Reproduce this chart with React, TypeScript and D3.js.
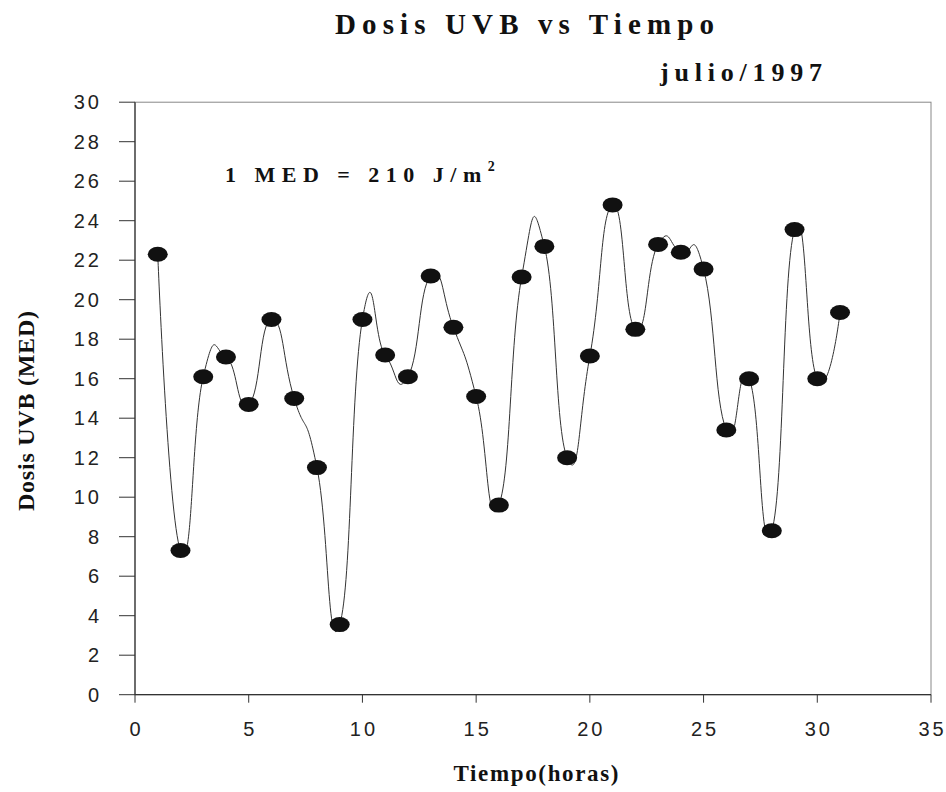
import React from "react";
import * as d3 from "d3";

const hours: number[] = [1,2,3,4,5,6,7,8,9,10,11,12,13,14,15,16,17,18,19,20,21,22,23,24,25,26,27,28,29,30,31];
const doses: number[] = [22.3,7.3,16.1,17.1,14.7,19.0,15.0,11.5,3.55,19.0,17.2,16.1,21.2,18.6,15.1,9.6,21.15,22.7,12.0,17.15,24.8,18.5,22.8,22.4,21.55,13.4,16.0,8.3,23.55,16.0,19.35];
const xTicks: number[] = [0,5,10,15,20,25,30,35];
const yTicks: number[] = [0,2,4,6,8,10,12,14,16,18,20,22,24,26,28,30];

const W = 946, H = 792;
const X0 = 135, X1 = 931, Y0 = 694.7, Y1 = 102.2;

export default function App() {
  const x = d3.scaleLinear().domain([0, 35]).range([X0, X1]);
  const y = d3.scaleLinear().domain([0, 30]).range([Y0, Y1]);
  const pts = hours.map((h, i) => [h, doses[i]] as [number, number]);
  const line = d3.line<[number, number]>()
    .x(d => x(d[0]))
    .y(d => y(d[1]))
    .curve(d3.curveCardinal.tension(-0.6));
  const serif = "'Liberation Serif', 'Times New Roman', serif";
  const sans = "'Liberation Sans', Arial, sans-serif";
  const ls = 3;
  return (
    <svg width={W} height={H} style={{ position: "absolute", left: 0, top: 0, background: "#fff" }}>
      <rect x={0} y={0} width={W} height={H} fill="#fff" />
      {/* frame */}
      <rect x={X0} y={Y1} width={X1 - X0} height={Y0 - Y1} fill="none" stroke="#888" strokeWidth={1} />
      <line x1={X0} x2={X0} y1={Y1} y2={Y0} stroke="#333" strokeWidth={1.2} />
      <line x1={X0} x2={X1} y1={Y0} y2={Y0} stroke="#333" strokeWidth={1.2} />
      {/* y ticks */}
      {yTicks.map(t => (
        <g key={"y" + t}>
          <line x1={X0 - 16} x2={X0} y1={y(t)} y2={y(t)} stroke="#333" strokeWidth={1} />
          <text x={99 + ls} y={y(t)} dy="0.36em" textAnchor="end" fontFamily={sans} fontSize={20}
            letterSpacing={ls} fill="#222">{t}</text>
        </g>
      ))}
      {/* x ticks */}
      {xTicks.map(t => (
        <g key={"x" + t}>
          <line x1={x(t)} x2={x(t)} y1={Y0} y2={Y0 + 8} stroke="#333" strokeWidth={1} />
          <text x={x(t) + ls / 2} y={736} textAnchor="middle" fontFamily={sans} fontSize={20}
            letterSpacing={ls} fill="#222">{t}</text>
        </g>
      ))}
      {/* curve */}
      <path d={line(pts) || ""} fill="none" stroke="#333" strokeWidth={1} />
      {pts.map((p, i) => (
        <ellipse key={i} cx={x(p[0])} cy={y(p[1])} rx={10} ry={7.5} fill="#111" />
      ))}
      {/* titles */}
      <text x={335} y={34} fontFamily={serif} fontWeight="bold" fontSize={29}
        textLength={379} lengthAdjust="spacing" fill="#111">Dosis UVB  vs Tiempo</text>
      <text x={660} y={81} fontFamily={serif} fontWeight="bold" fontSize={26}
        textLength={162} lengthAdjust="spacing" fill="#111">julio/1997</text>
      <text x={225} y={182} fontFamily={serif} fontWeight="bold" fontSize={22}
        letterSpacing={6.5} fill="#111">1 MED = 210 J/m<tspan fontSize={14} dy={-11}>2</tspan></text>
      <text transform={`translate(34, 411) rotate(-90)`} textAnchor="middle" fontFamily={serif}
        fontWeight="bold" fontSize={24} textLength={200} lengthAdjust="spacing" fill="#111">Dosis UVB (MED)</text>
      <text x={536} y={781} textAnchor="middle" fontFamily={serif} fontWeight="bold" fontSize={23}
        textLength={165} lengthAdjust="spacing" fill="#111">Tiempo(horas)</text>
    </svg>
  );
}
